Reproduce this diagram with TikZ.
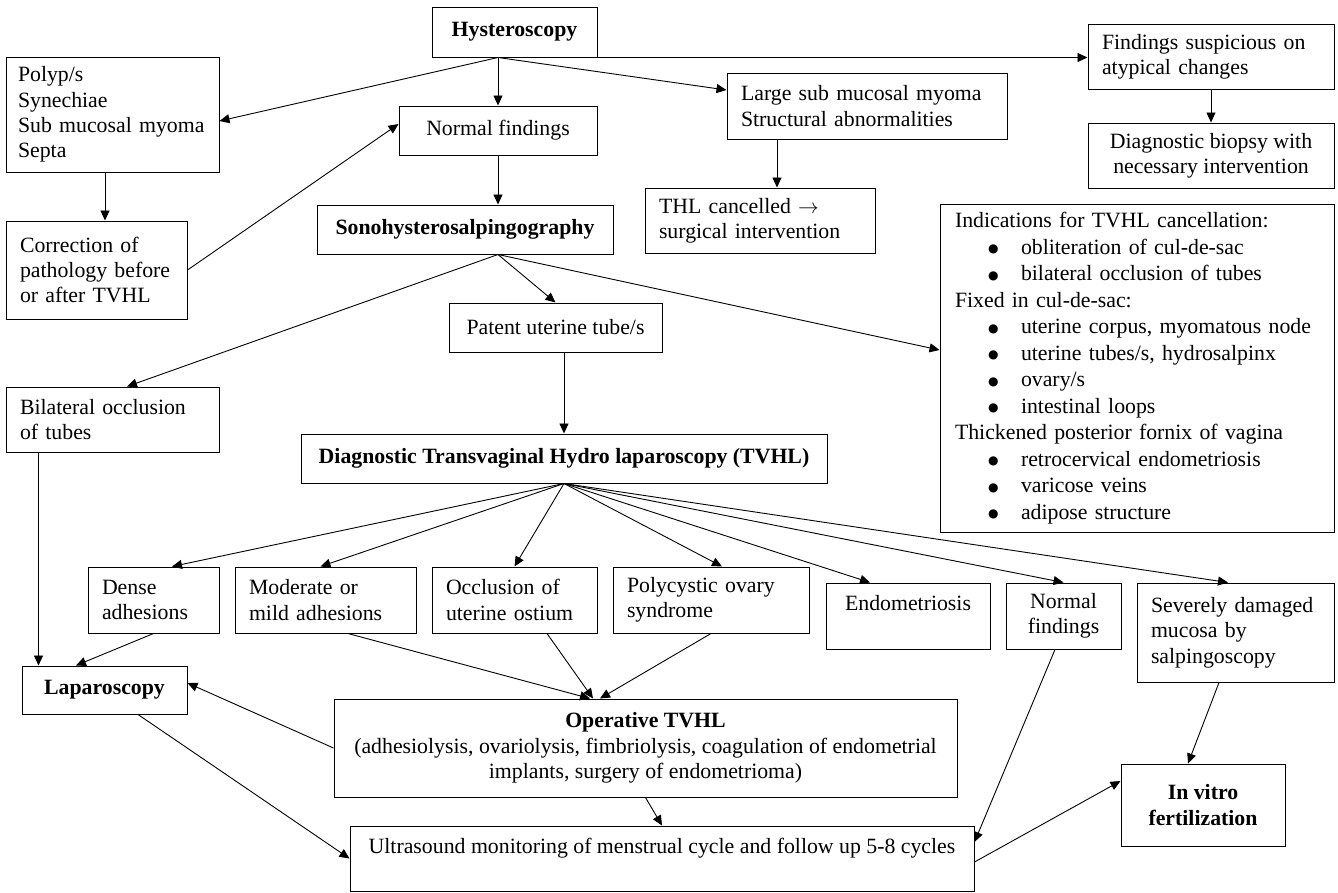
\documentclass[tikz,border=0pt]{standalone}
\usepackage{fontspec}
\setmainfont{Liberation Serif}
\newfontfamily\dvs{DejaVu Sans}
\usetikzlibrary{arrows.meta,calc}
\hyphenpenalty=10000
\exhyphenpenalty=10000
\newcommand\fs{\fontsize{21.8pt}{25.3pt}\selectfont}
\newcommand\fsind{\fontsize{21.8pt}{26.5pt}\selectfont}
\newcommand\bigbul{\raisebox{1.5pt}{\dvs\fontsize{12pt}{12pt}\selectfont ●}}
\newcommand\bul[1]{\hspace*{33pt}\makebox[33pt][l]{\bigbul}#1}
\begin{document}
\begin{tikzpicture}[x=1pt,y=-1pt,
  box/.style={draw, line width=1pt, inner xsep=14pt, inner ysep=0pt, font=\fs},
  L/.style={align=left},
  C/.style={align=center},
  arr/.style={-{Triangle[length=10pt,width=9pt]}, line width=0.9pt}]
\useasboundingbox (0,0) rectangle (1338,892);

% top part
\node[box,C,minimum width=165pt,minimum height=50pt] (hyst) at (514.5,32) {\textbf{Hysteroscopy}};
\node[box,L,inner xsep=12pt,text width=189pt,minimum height=115pt] (polyp) at (112.5,114.5) {Polyp/s\\Synechiae\\Sub mucosal myoma\\Septa};
\node[box,L,text width=153pt,minimum height=98pt] (corr) at (96.5,270) {Correction of\\pathology before\\or after TVHL};
\node[box,C,minimum width=198pt,minimum height=49pt] (norm1) at (498,130.5) {Normal findings};
\node[box,C,minimum width=296pt,minimum height=49pt] (sono) at (465,229.5) {\textbf{Sonohysterosalpingography}};
\node[box,L,text width=252pt,minimum height=66pt] (large) at (867,106) {Large sub mucosal myoma\\Structural abnormalities};
\node[box,L,text width=202pt,minimum height=65pt] (thl) at (760,220.5) {THL cancelled $\rightarrow$\\surgical intervention};
\node[box,L,text width=218pt,minimum height=65pt] (find) at (1211,56.5) {Findings suspicious on\\atypical changes};
\node[box,C,minimum width=246pt,minimum height=65pt] (biop) at (1211,155.5) {Diagnostic biopsy with\\necessary intervention};
\node[box,L,inner xsep=15pt,text width=364pt,minimum height=328pt,font=\fsind] (ind) at (1137,368) {Indications for TVHL cancellation:\\
\bul{obliteration of cul-de-sac}\\
\bul{bilateral occlusion of tubes}\\
Fixed in cul-de-sac:\\
\bul{uterine corpus, myomatous node}\\
\bul{uterine tubes/s, hydrosalpinx}\\
\bul{ovary/s}\\
\bul{intestinal loops}\\
Thickened posterior fornix of vagina\\
\bul{retrocervical endometriosis}\\
\bul{varicose veins}\\
\bul{adipose structure}};

% middle
\node[box,C,minimum width=213pt,minimum height=49pt] (pat) at (555.5,327.5) {Patent uterine tube/s};
\node[box,L,text width=185pt,minimum height=65pt] (bil) at (112.5,419.5) {Bilateral occlusion\\of tubes};
\node[box,C,minimum width=526pt,minimum height=49pt] (tvhl) at (564,458.5) {\textbf{Diagnostic Transvaginal Hydro laparoscopy (TVHL)}};

% fan row
\node[box,L,text width=103pt,minimum height=66pt] (dense) at (153.5,600) {Dense\\adhesions};
\node[box,L,text width=153pt,minimum height=66pt] (mod) at (325.5,600) {Moderate or\\mild adhesions};
\node[box,L,text width=137pt,minimum height=66pt] (occ) at (514.5,600) {Occlusion of\\uterine ostium};
\node[box,L,text width=168pt,minimum height=66pt] (poly) at (711,600) {Polycystic ovary\\syndrome};
\node[box,C,minimum width=164pt,minimum height=66pt] (endo) at (908,616) {Endometriosis\\\mbox{}};
\node[box,C,minimum width=115pt,minimum height=66pt] (norm2) at (1063.5,616) {Normal\\findings};
\node[box,L,text width=169pt,minimum height=99pt] (sev) at (1235.5,632.5) {Severely damaged\\mucosa by\\salpingoscopy};

% bottom
\node[box,C,minimum width=165pt,minimum height=48pt] (lap) at (104.5,690) {\textbf{Laparoscopy}};
\node[box,C,minimum width=623pt,minimum height=98pt] (op) at (645.5,748) {\textbf{Operative TVHL}\\(adhesiolysis, ovariolysis, fimbriolysis, coagulation of endometrial\\implants, surgery of endometrioma)};
\node[box,C,minimum width=624pt,minimum height=65pt] (us) at (662,858.5) {Ultrasound monitoring of menstrual cycle and follow up 5-8 cycles\\\mbox{}};
\node[box,C,minimum width=164pt,minimum height=82pt] (ivf) at (1203,805) {\textbf{In vitro}\\\textbf{fertilization}};

% connectors: top
\coordinate (hs) at (norm1.north |- hyst.south);
\draw[arr] (hs) -- ([yshift=-6.5pt]polyp.east);
\draw[arr] (hs) -- (norm1.north);
\draw[arr] (hs) -- ([yshift=16pt]large.west);
\draw[arr] (hyst.south east) -- (hyst.south east -| find.west);
\coordinate (pa) at ([xshift=-7.5pt]polyp.south);
\draw[arr] (pa) -- (pa |- corr.north);
\draw[arr] (corr.east) -- ([yshift=6.5pt]norm1.west);
\draw[arr] (norm1.south) -- (norm1.south |- sono.north);
\coordinate (la) at ([xshift=-90pt]large.south);
\draw[arr] (la) -- (la |- thl.north);
\draw[arr] (find.south) -- (biop.north);

% from sono
\coordinate (so) at (norm1.south |- sono.south);
\draw[arr] (so) -- (pat.north);
\draw[arr] (so) -- ([xshift=14.5pt]bil.north);
\draw[arr] (so) -- ([yshift=18pt]ind.west);
\coordinate (pt) at (tvhl.north |- pat.south);
\draw[arr] (pt) -- (tvhl.north);

% fan from TVHL
\draw[arr] (tvhl.south) -- ([xshift=18.5pt]dense.north);
\draw[arr] (tvhl.south) -- ([xshift=-5pt]mod.north);
\draw[arr] (tvhl.south) -- (occ.north);
\draw[arr] (tvhl.south) -- ([xshift=11pt]poly.north);
\draw[arr] (tvhl.south) -- ([xshift=-38pt]endo.north);
\draw[arr] (tvhl.south) -- (norm2.north);
\draw[arr] (tvhl.south) -- ([xshift=-7.5pt]sev.north);

% lower connectors
\coordinate (bl) at ([xshift=33pt]bil.south west);
\draw[arr] (bl) -- (bl |- lap.north);
\draw[arr] (dense.south) -- ([xshift=-28.5pt]lap.north);
\draw[arr] ([xshift=22.5pt]mod.south) -- ([xshift=-55.5pt]op.north);
\draw[arr] ([xshift=32.5pt]occ.south) -- ([xshift=-52.5pt]op.north);
\draw[arr] (poly.south) -- ([xshift=-45.5pt]op.north);
\draw[arr] (op.west) -- ([yshift=7pt]lap.east);
\draw[arr] ([xshift=33.5pt]lap.south) -- (us.west);
\draw[arr] (op.south) -- (us.north);
\draw[arr] ([xshift=-8.5pt]norm2.south) -- ([yshift=16.5pt]us.east);
\draw[arr] ([yshift=-3.5pt]us.east) -- ([yshift=24pt]ivf.west);
\draw[arr] ([xshift=-16.5pt]sev.south) -- ([xshift=-15pt]ivf.north);
\end{tikzpicture}
\end{document}
